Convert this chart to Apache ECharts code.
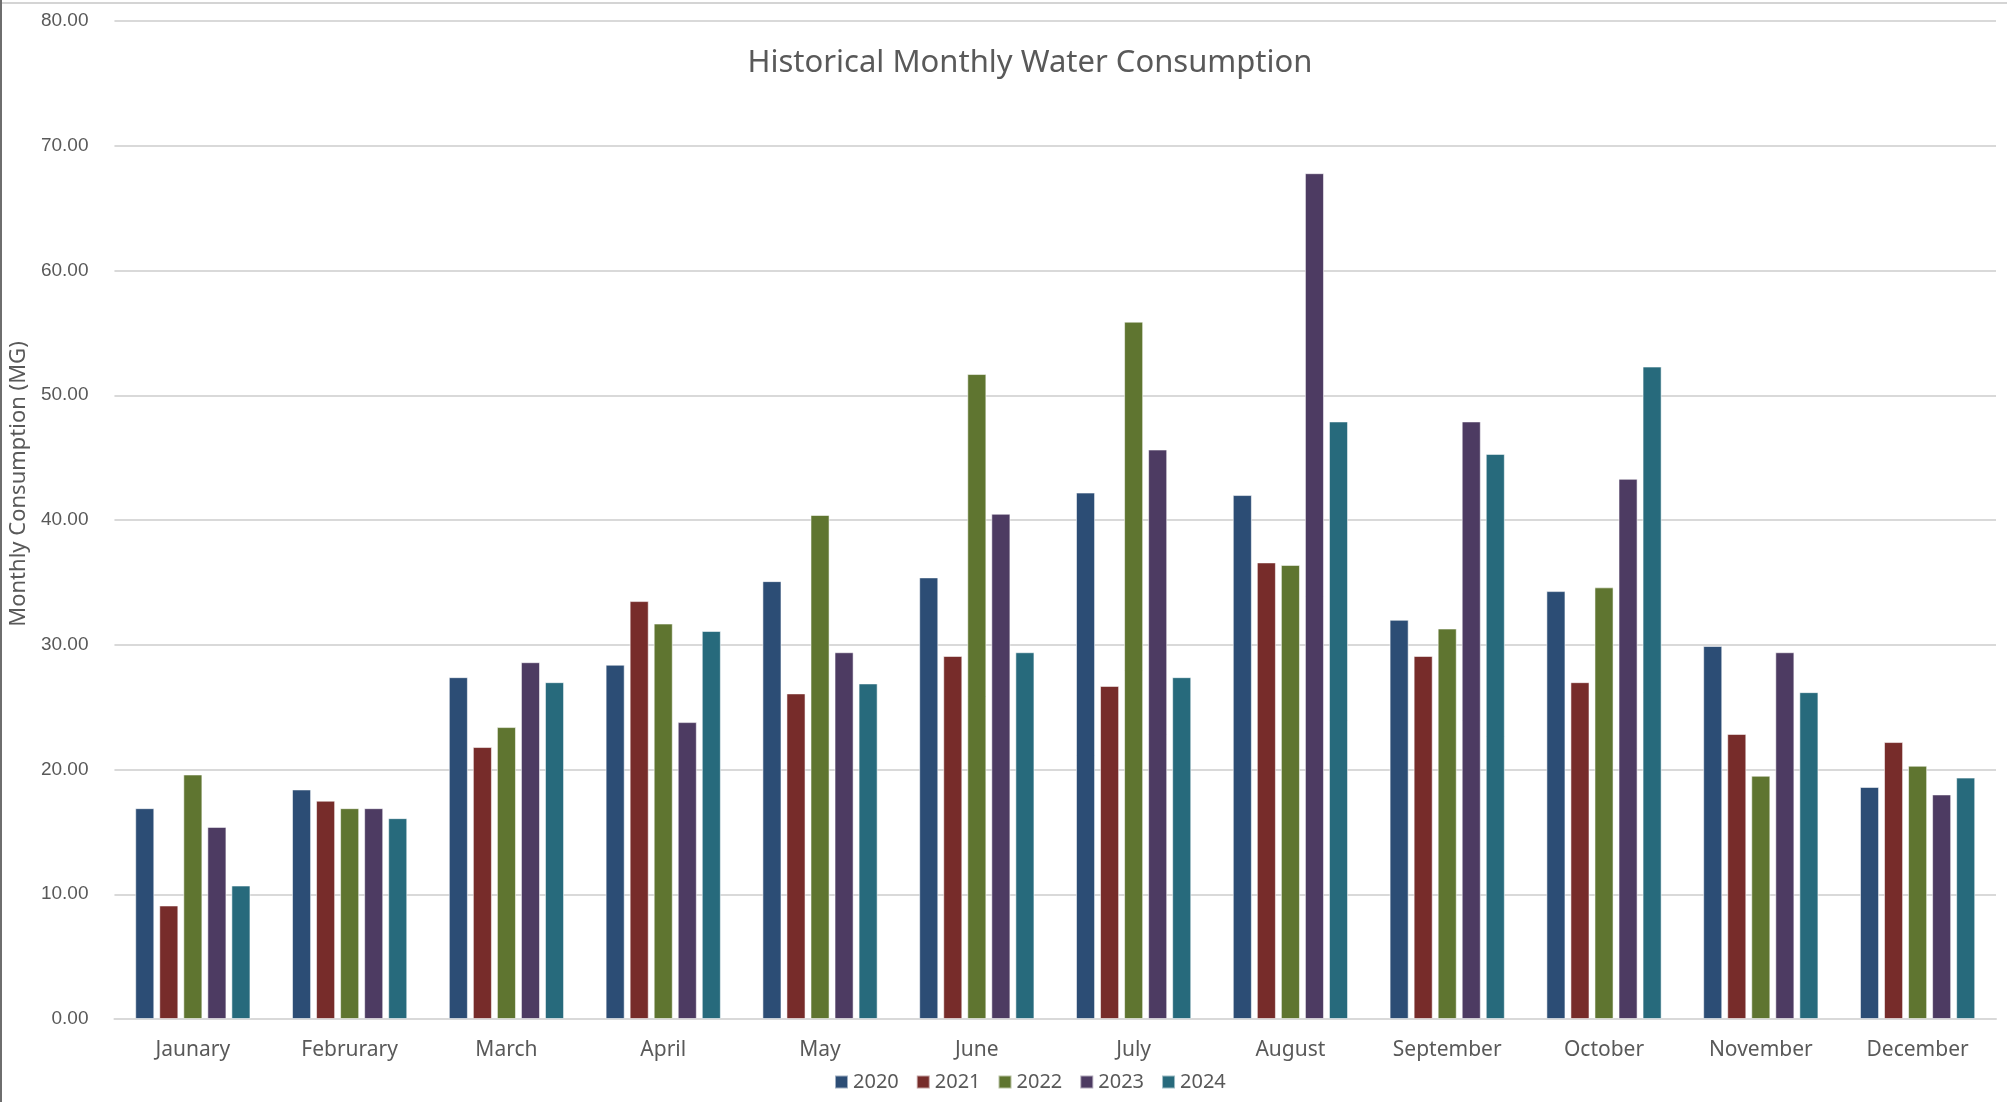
<!DOCTYPE html>
<html>
<head>
<meta charset="utf-8">
<title>Historical Monthly Water Consumption</title>
<script src="https://cdn.jsdelivr.net/npm/echarts@6/dist/echarts.min.js"></script>
<style>
  html, body { margin: 0; padding: 0; background: #fff; }
  #chart { width: 2007px; height: 1102px; }
</style>
</head>
<body>
<div id="chart"></div>
<script>
// months (spelling kept as in the source chart)
const months = ["Jaunary", "Februrary", "March", "April", "May", "June",
  "July", "August", "September", "October", "November", "December"];

const years = ["2020", "2021", "2022", "2023", "2024"];

// monthly consumption (MG)
const v2020 = [16.9, 18.4, 27.4, 28.4, 35.1, 35.4, 42.2, 42.0, 32.0, 34.3, 29.9, 18.6];
const v2021 = [9.1, 17.5, 21.8, 33.5, 26.1, 29.1, 26.7, 36.6, 29.1, 27.0, 22.85, 22.2];
const v2022 = [19.6, 16.9, 23.4, 31.7, 40.4, 51.7, 55.9, 36.4, 31.3, 34.6, 19.5, 20.3];
const v2023 = [15.4, 16.9, 28.6, 23.8, 29.4, 40.5, 45.65, 67.8, 47.9, 43.3, 29.4, 18.0];
const v2024 = [10.7, 16.1, 27.0, 31.1, 26.9, 29.4, 27.4, 47.9, 45.3, 52.3, 26.2, 19.35];

const colors = ["#2C4D75", "#772C2A", "#5F7530", "#4D3B62", "#276A7C"];
const values = [v2020, v2021, v2022, v2023, v2024];

const textColor = "#595959";
const narrow = "'Liberation Sans Narrow', 'Noto Sans', sans-serif";

const chart = echarts.init(document.getElementById("chart"));
chart.setOption({
  animation: false,
  color: colors,
  title: {
    text: "Historical Monthly Water Consumption",
    left: 1025,
    textAlign: "center",
    top: 43,
    textStyle: { fontFamily: narrow, fontSize: 31, fontWeight: "normal", color: textColor }
  },
  legend: {
    data: years,
    bottom: 5,
    left: 829,
    itemWidth: 13,
    itemHeight: 13,
    itemGap: 17,
    icon: "rect",
    textStyle: { fontFamily: narrow, fontSize: 20, color: textColor }
  },
  grid: { left: 113, right: 11, top: 21, bottom: 83, containLabel: false },
  xAxis: {
    type: "category",
    data: months,
    axisLine: { lineStyle: { color: "#d9d9d9", width: 2 } },
    axisTick: { show: false },
    axisLabel: { fontFamily: narrow, fontSize: 21, color: textColor, margin: 21 }
  },
  yAxis: {
    type: "value",
    min: 0,
    max: 80,
    interval: 10,
    name: "Monthly Consumption (MG)",
    nameLocation: "middle",
    nameGap: 77,
    nameTextStyle: { fontFamily: "'Noto Sans', sans-serif", fontSize: 22, color: textColor, padding: [0, 0, 0, 72] },
    axisLine: { show: false },
    axisTick: { show: false },
    splitLine: { lineStyle: { color: "#d9d9d9", width: 2 } },
    axisLabel: {
      fontFamily: "'Liberation Sans', Arial, sans-serif",
      fontSize: 19,
      color: textColor,
      margin: 26,
      formatter: (v) => v.toFixed(2)
    }
  },
  series: years.map((y, i) => ({
    name: y,
    type: "bar",
    data: values[i],
    barGap: "26%",
    barCategoryGap: "26.5%",
    itemStyle: { borderColor: "rgba(255,255,255,0.55)", borderWidth: 1 }
  })),
  graphic: [
    { type: "line", shape: { x1: 0, y1: 3, x2: 2007, y2: 3 }, style: { stroke: "#d4d4d4", lineWidth: 2 } },
    { type: "line", shape: { x1: 1, y1: 0, x2: 1, y2: 1102 }, style: { stroke: "#6e6e6e", lineWidth: 2 } }
  ]
});
</script>
</body>
</html>
